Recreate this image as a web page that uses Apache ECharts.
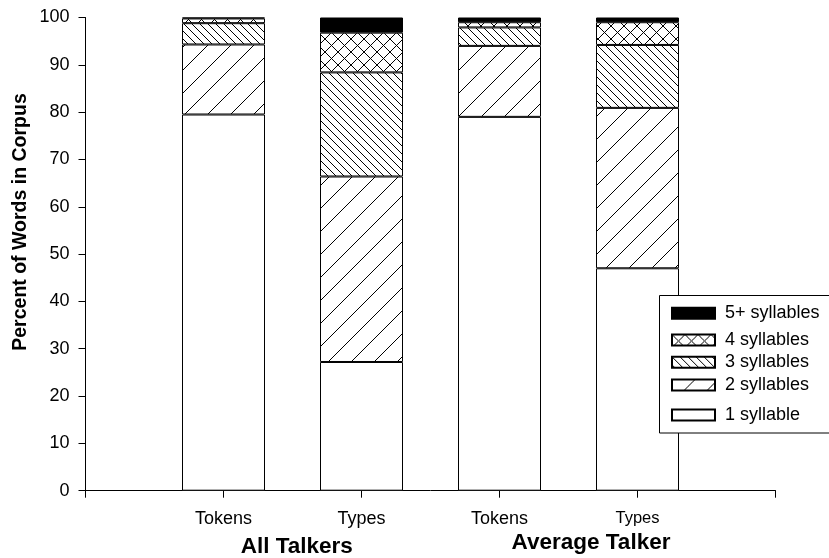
<!DOCTYPE html>
<html>
<head>
<meta charset="utf-8">
<script src="https://cdn.jsdelivr.net/npm/echarts@6/dist/echarts.min.js"></script>
<style>
  html, body { margin: 0; padding: 0; background: #fff; }
  #chart { width: 829px; height: 558px; }
</style>
</head>
<body>
<div id="chart"></div>
<script>
// Categories on the x axis (empty slots at both ends keep the bars between end ticks)
const categories = ['', 'Tokens', 'Types', 'Tokens', 'Types', ''];
const groupLabels = ['All Talkers', 'Average Talker'];
const seriesNames = ['1 syllable', '2 syllables', '3 syllables', '4 syllables', '5+ syllables'];

// Percent of words per syllable count
const oneSyllable       = ['-', 79.5, 27.2, 79.0, 47.0, '-'];
const twoSyllables      = ['-', 14.8, 39.2, 15.0, 33.9, '-'];
const threeSyllables    = ['-', 4.5, 22.0, 3.9, 13.3, '-'];
const fourSyllables     = ['-', 1.0, 8.4, 1.1, 4.8, '-'];
const fivePlusSyllables = ['-', 0.2, 3.2, 1.0, 1.0, '-'];

const yMin = 0, yMax = 100, yStep = 10;
const yTitle = 'Percent of Words in Corpus';

const FONT = '"Liberation Sans", Arial, Helvetica, sans-serif';

// Black-on-white hatch tiles used as fill patterns
function hatch(size, dirs) {
  const c = document.createElement('canvas');
  c.width = size; c.height = size;
  const g = c.getContext('2d');
  g.fillStyle = '#fff';
  g.fillRect(0, 0, size, size);
  g.strokeStyle = '#000';
  g.lineWidth = 1;
  g.beginPath();
  for (const k of [-1, 0, 1]) {
    if (dirs.indexOf('/') >= 0) { g.moveTo(k * size, size); g.lineTo(k * size + size, 0); }
    if (dirs.indexOf('\\') >= 0) { g.moveTo(k * size, 0); g.lineTo(k * size + size, size); }
  }
  g.stroke();
  return { image: c, repeat: 'repeat' };
}

const fills = ['#ffffff', hatch(23, '/'), hatch(8, '\\'), hatch(13, '/\\'), '#000000'];
const dataSets = [oneSyllable, twoSyllables, threeSyllables, fourSyllables, fivePlusSyllables];

const series = seriesNames.map((name, i) => ({
  name: name,
  type: 'bar',
  stack: 'total',
  barWidth: 83,
  data: dataSets[i],
  itemStyle: { color: fills[i], borderColor: '#000', borderWidth: 1 },
  emphasis: { disabled: true }
}));

// One legend per entry so each row sits at its own height
const legendTops = [406, 376, 353.3, 331, 304.3];
const legends = seriesNames.map((name, i) => ({
  data: [name],
  orient: 'vertical',
  left: 671,
  top: legendTops[i],
  padding: 0,
  itemWidth: 43,
  itemHeight: 11,
  icon: 'rect',
  selectedMode: false,
  z: 20,
  textStyle: { fontSize: 18, color: '#000', fontFamily: FONT, lineHeight: 18, padding: [0, 0, 0, 5] }
}));

const chart = echarts.init(document.getElementById('chart'));
chart.setOption({
  animation: false,
  backgroundColor: '#fff',
  grid: { left: 85.5, right: 53.5, top: 17.5, bottom: 67.3 },
  legend: legends,
  xAxis: {
    type: 'category',
    data: categories,
    boundaryGap: false,
    axisLine: { lineStyle: { color: '#000', width: 1 } },
    axisTick: { show: true, length: 7, interval: 0, lineStyle: { color: '#000' } },
    axisLabel: {
      interval: 0,
      margin: 19,
      fontSize: 18,
      color: '#000',
      fontFamily: FONT,
      formatter: (v, idx) => idx === 4 ? '{s|' + v + '}' : v,
      rich: { s: { fontSize: 16.5, fontFamily: FONT, color: '#000' } }
    },
    splitLine: { show: false }
  },
  yAxis: {
    type: 'value',
    min: yMin,
    max: yMax,
    interval: yStep,
    axisLine: { show: true, lineStyle: { color: '#000', width: 1 } },
    axisTick: { show: true, length: 7, lineStyle: { color: '#000' } },
    axisLabel: { margin: 16, fontSize: 18, color: '#000', fontFamily: FONT },
    splitLine: { show: false }
  },
  graphic: [
    {
      type: 'rect', z: 10,
      shape: { x: 659.5, y: 295.5, width: 172, height: 137.5 },
      style: { fill: '#fff', stroke: '#000', lineWidth: 1 }
    },
    {
      type: 'text', z: 10, x: 21, y: 222, rotation: Math.PI / 2,
      style: { text: yTitle, font: 'bold 19.5px ' + FONT, fill: '#000',
               textAlign: 'center', textVerticalAlign: 'middle', align: 'center', verticalAlign: 'middle' }
    },
    {
      type: 'text', z: 10, x: 296.7, y: 547,
      style: { text: groupLabels[0], font: 'bold 22.5px ' + FONT, fill: '#000',
               textAlign: 'center', textVerticalAlign: 'middle', align: 'center', verticalAlign: 'middle' }
    },
    {
      type: 'text', z: 10, x: 591, y: 543,
      style: { text: groupLabels[1], font: 'bold 22.5px ' + FONT, fill: '#000',
               textAlign: 'center', textVerticalAlign: 'middle', align: 'center', verticalAlign: 'middle' }
    }
  ],
  series: series
});
</script>
</body>
</html>
